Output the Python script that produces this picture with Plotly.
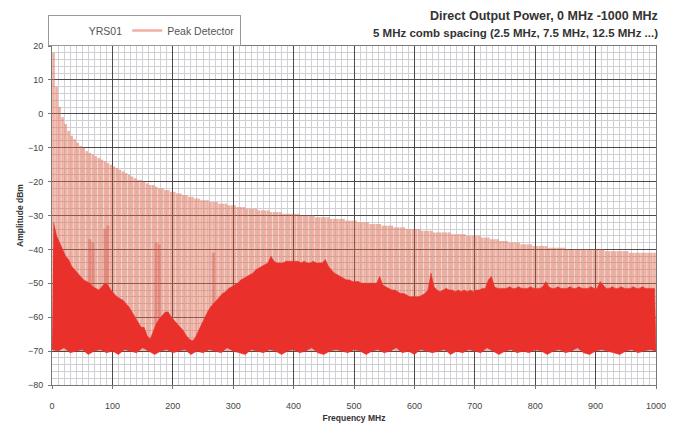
import numpy as np
import plotly.graph_objects as go

# ---------------- data ----------------
COMB_START_MHZ = 2.5
COMB_SPACING_MHZ = 5.0
N_COMB = 200
COMB_FREQ = COMB_START_MHZ + COMB_SPACING_MHZ * np.arange(N_COMB)

# Peak-detector level of every comb line (dBm), 20 values per 100 MHz
PEAK_DBM = [
    18, 8, 2, -1, -3, -5, -6.5, -7.5, -8.5, -9.5, -10, -11, -11.5, -12, -12.5, -13, -13.5, -14, -14.5, -15,
    -15.5, -16, -16.5, -17, -17.5, -18, -18.5, -19, -19.5, -19.5, -20, -20.5, -21, -21, -21.5, -22, -22, -22.5, -22.5, -23,
    -23, -23.5, -23.5, -24, -24, -24.5, -24.5, -25, -25, -25.5, -25.5, -25.5, -26, -26, -26, -26.5, -26.5, -26.5, -27, -27,
    -27, -27.5, -27.5, -27.5, -28, -28, -28, -28, -28.5, -28.5, -28.5, -28.5, -29, -29, -29, -29, -29.5, -29.5, -29.5, -29.5,
    -29.5, -29.5, -30, -30, -30, -30, -30, -30.5, -30.5, -30.5, -30.5, -30.5, -31, -31, -31, -31, -31, -31.5, -31.5, -31.5,
    -31.5, -32, -32, -32, -32, -32.5, -32.5, -32.5, -32.5, -33, -33, -33, -33, -33.5, -33.5, -33.5, -33.5, -34, -34, -34,
    -34, -34, -34.5, -34.5, -34.5, -34.5, -35, -35, -35, -35, -35, -35, -35.5, -35.5, -35.5, -35.5, -35.5, -36, -36, -36,
    -36, -36, -36.5, -36.5, -36.5, -37, -37, -37, -37.5, -37.5, -37.5, -38, -38, -38, -38, -38.5, -38.5, -38.5, -38.5, -39,
    -39, -39, -39, -39, -39.5, -39.5, -39.5, -39.5, -39.5, -39.5, -40, -40, -40, -40, -40, -40, -40, -40, -40, -40,
    -40, -40, -40, -40.5, -40.5, -40.5, -40.5, -40.5, -40.5, -40.5, -40.5, -41, -41, -41, -41, -41, -41, -41, -41, -41,
]

# Upper edge of the YRS01 noise / spur band at each comb frequency (dBm)
RED_TOP_DBM = [
    -32, -36, -38, -40, -42, -43, -45, -46, -47, -48, -49, -49.5, -50, -51, -51.5, -52, -51, -50, -50.5, -52,
    -53, -54, -54.5, -55, -56, -57, -58.5, -60, -61.5, -63, -63, -65.5, -66.5, -64, -62, -60.5, -59.5, -58.5, -58.5, -60,
    -61, -62, -63, -64, -65.5, -66.5, -67, -66, -64, -62, -60, -58.5, -57, -56, -55, -54, -53, -52.5, -51.5, -51,
    -50.5, -50, -49, -48.5, -48, -47.5, -47, -46, -45.5, -45, -44.5, -44, -42, -43.5, -44, -44, -44, -43.5, -43.5, -43.5,
    -43.5, -43.5, -44, -43.5, -44, -44, -43.5, -44, -44, -44, -43, -45, -46, -47, -47.5, -48, -48.5, -49, -49, -49.5,
    -49.5, -49.5, -50, -50, -50, -50, -50, -50, -48, -50.5, -51, -51.5, -52, -52, -52.5, -53, -53, -53.5, -54, -54,
    -54, -54, -53.5, -53, -52, -47, -51, -52, -52.5, -52, -51.5, -52, -52, -52.5, -52, -52.5, -52, -52.5, -52, -52.5,
    -52, -52, -51.5, -51.5, -49, -48, -51, -51.5, -51.5, -51.5, -51.5, -51, -51.5, -51.5, -51, -51.5, -51.5, -51.5, -51, -51.5,
    -51.5, -51.5, -51, -49.5, -51, -51.5, -51.5, -51, -51.5, -51.5, -51.5, -51, -51.5, -51.5, -51, -51.5, -51.5, -51.5, -51, -51.5,
    -51.5, -49.5, -50.5, -51.5, -51.5, -51, -51.5, -51.5, -51, -51.5, -51.5, -51.5, -51, -51.5, -51.5, -51, -51.5, -51.5, -51.5, -51.5,
]

# Lower (noise floor) edge of the YRS01 band, every 10 MHz from 0 to 1000 MHz
FLOOR_FREQ = np.arange(0, 1001, 10)
FLOOR_DBM = [
    -69.5, -70, -69, -70.5, -70, -69.5, -71, -70, -69.5, -70.5,
    -70, -71, -69.5, -70, -70.5, -69, -70, -71, -70, -69.5,
    -70.5, -70, -69.5, -71, -70, -70.5, -69.5, -70, -70.5, -69,
    -70, -70.5, -71, -69.5, -70, -70.5, -69.5, -70, -71, -70,
    -69.5, -70.5, -70, -69, -70.5, -71, -70, -69.5, -70, -70.5,
    -69.5, -70, -71, -70, -69.5, -70.5, -70, -69, -70.5, -70,
    -71, -69.5, -70, -70.5, -70, -69.5, -71, -70, -70.5, -69.5,
    -70, -70.5, -69, -70, -71, -70, -69.5, -70.5, -70, -70.5,
    -69.5, -70, -71, -70, -69.5, -70.5, -70, -69, -70.5, -71,
    -70, -69.5, -70, -70.5, -71, -70, -69.5, -70.5, -70, -69.5,
    -70,
]

# a few stronger spur lines inside the peak-detector band
SPUR_FREQ = [62.5, 67.5, 87.5, 92.5, 172.5, 177.5, 267.5]
SPUR_DBM = [-37, -38, -34, -33, -38, -38.5, -41]

NOISE_FLOOR_DBM = -70

X_TICKS = list(range(0, 1001, 100))
Y_TICKS = list(range(-80, 21, 10))

TITLE_1 = "Direct Output Power, 0 MHz -1000 MHz"
TITLE_2 = "5 MHz comb spacing (2.5 MHz, 7.5 MHz, 12.5 MHz ...)"

# ---------------- figure ----------------
FONT = "Liberation Sans, Arial, sans-serif"
SALMON = "rgba(226,108,82,0.54)"
SPUR = "rgba(214,80,66,0.40)"
RED = "#e9302b"

def segments(freqs, levels, base):
    xs, ys = [], []
    for f, v in zip(freqs, levels):
        xs += [f, f, None]
        ys += [base, v, None]
    return xs, ys

fig = go.Figure()

# legend entry for the instrument name (no line sample in the original)
fig.add_trace(go.Scatter(x=[None], y=[None], mode="lines", name="YRS01",
                         line=dict(color="rgba(0,0,0,0)", width=1)))

px_, py_ = segments(COMB_FREQ, PEAK_DBM, NOISE_FLOOR_DBM)
fig.add_trace(go.Scatter(x=px_, y=py_, mode="lines", name="Peak Detector",
                         line=dict(color=SALMON, width=2.6), hoverinfo="skip"))

sx_, sy_ = segments(SPUR_FREQ, SPUR_DBM, NOISE_FLOOR_DBM)
fig.add_trace(go.Scatter(x=sx_, y=sy_, mode="lines", showlegend=False,
                         line=dict(color=SPUR, width=3), hoverinfo="skip"))

red_x = list(COMB_FREQ) + list(FLOOR_FREQ[::-1])
red_y = list(RED_TOP_DBM) + list(FLOOR_DBM[::-1])
fig.add_trace(go.Scatter(x=red_x, y=red_y, mode="lines", fill="toself",
                         fillcolor=RED, line=dict(color=RED, width=0.6),
                         showlegend=False, hoverinfo="skip"))

axis_common = dict(
    showline=True, linecolor="#777", linewidth=1, mirror=True,
    gridcolor="#4a4a4a", gridwidth=1.4, zeroline=False,
    ticks="outside", ticklen=3, tickcolor="#777", automargin=False,
    tickfont=dict(family=FONT, size=9, color="#444"),
)

fig.update_xaxes(
    range=[0, 1000], tickvals=X_TICKS, ticklabelstandoff=9,
    minor=dict(dtick=10, showgrid=True, gridcolor="#cfcfd4", gridwidth=0.8),
    title=dict(text="<b>Frequency MHz</b>", font=dict(family=FONT, size=8.5, color="#333"), standoff=11),
    **axis_common,
)
fig.update_yaxes(
    range=[-80, 20], tickvals=Y_TICKS, ticklabelstandoff=3,
    minor=dict(dtick=2, showgrid=True, gridcolor="#cfcfd4", gridwidth=0.8),
    title=dict(text="<b>Amplitude dBm</b>", font=dict(family=FONT, size=8.5, color="#333"), standoff=2),
    **axis_common,
)

fig.add_annotation(text="<b>" + TITLE_1 + "</b>", xref="paper", yref="paper",
                   x=1.0, y=1.0, xanchor="right", yanchor="bottom", yshift=21, xshift=4,
                   showarrow=False, font=dict(family=FONT, size=12.5, color="#333"))
fig.add_annotation(text="<b>" + TITLE_2 + "</b>", xref="paper", yref="paper",
                   x=1.0, y=1.0, xanchor="right", yanchor="bottom", yshift=5, xshift=4,
                   showarrow=False, font=dict(family=FONT, size=11.5, color="#333"))

# page body has an 8 px margin: figure is 667x415 so that the plot area sits at
# x 52..656, y 46..385 of the 683x431 window
fig.update_layout(
    width=667, height=415,
    margin=dict(l=44, r=19, t=38, b=38, autoexpand=False),
    paper_bgcolor="white", plot_bgcolor="white",
    font=dict(family=FONT),
    showlegend=True,
    legend=dict(orientation="h", x=-0.007, y=1.0, xanchor="left", yanchor="bottom",
                bgcolor="white", bordercolor="#999", borderwidth=1,
                font=dict(family=FONT, size=10.5, color="#555"),
                itemwidth=30, tracegroupgap=0),
)

fig.write_html("out.html")
